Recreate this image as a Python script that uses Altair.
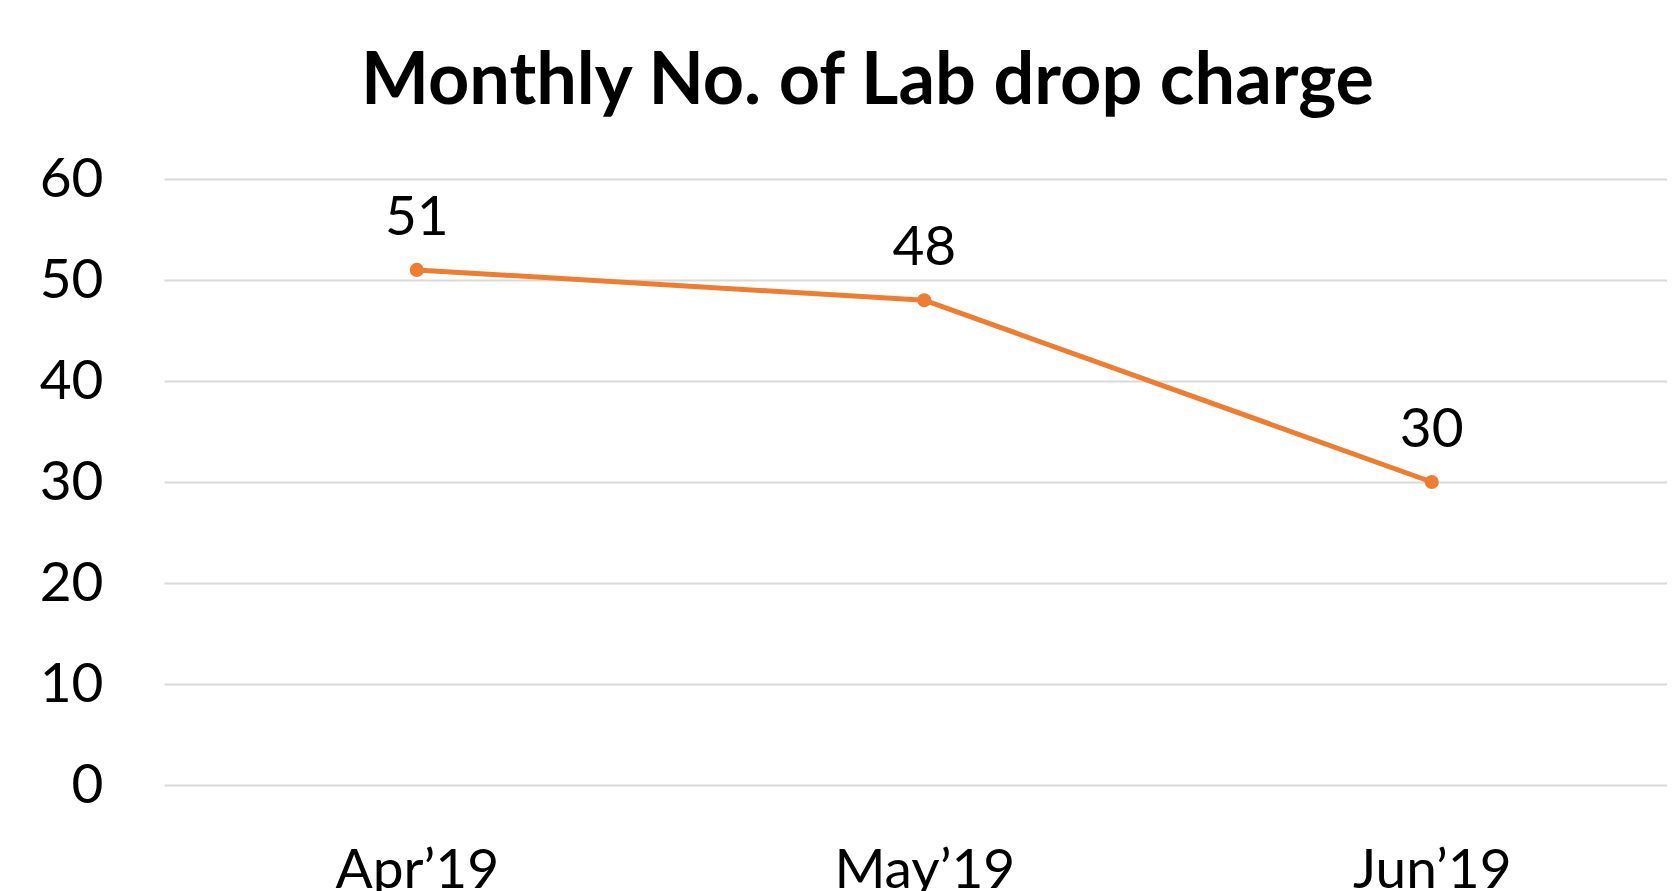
import altair as alt
import pandas as pd

months = ["Apr\u201919", "May\u201919", "Jun\u201919"]
counts = [51, 48, 30]

df = pd.DataFrame({"month": months, "count": counts})

FONT = "Lato"
ORANGE = "#ED7D31"

x = alt.X(
    "month:N",
    sort=months,
    scale=alt.Scale(type="point", padding=0.4808, align=0.518),
    axis=alt.Axis(
        title=None, domain=False, ticks=False, tickSize=0, grid=False,
        labelFont=FONT, labelFontSize=55, labelColor="#000000",
        labelBaseline="alphabetic", labelPadding=102, labelAngle=0,
        labelLimit=0, labelOverlap=False,
    ),
)
y = alt.Y(
    "count:Q",
    scale=alt.Scale(domain=[0, 60], nice=False),
    axis=alt.Axis(
        title=None, domain=False, ticks=False, tickSize=0, values=[0, 10, 20, 30, 40, 50, 60],
        grid=True, gridColor="#D9D9D9", gridWidth=2,
        labelFont=FONT, labelFontSize=55, labelColor="#000000",
        labelPadding=61, labelBaseline="middle",
    ),
)

base = alt.Chart(df).encode(x=x, y=y)

line = base.mark_line(color=ORANGE, strokeWidth=5)
pts = base.mark_point(filled=True, color=ORANGE, size=200, opacity=1)
labels = base.mark_text(
    font=FONT, fontSize=55, color="#000000", baseline="alphabetic", dy=-35
).encode(text=alt.Text("count:Q"))

chart = (
    alt.layer(line, pts, labels)
    .properties(
        width=1503,
        height=606,
        title=alt.TitleParams(
            "Monthly No. of Lab drop charge",
            font=FONT, fontSize=72, fontWeight="bold", color="#000000",
            anchor="middle", frame="group", dx=-48, offset=-24, baseline="alphabetic",
        ),
        autosize=alt.AutoSizeParams(type="none"),
        padding={"left": 156, "top": 171, "right": 0, "bottom": 106},
    )
    .configure_view(stroke=None)
)

chart.save("out.html", embed_options={"renderer": "svg", "actions": False})
